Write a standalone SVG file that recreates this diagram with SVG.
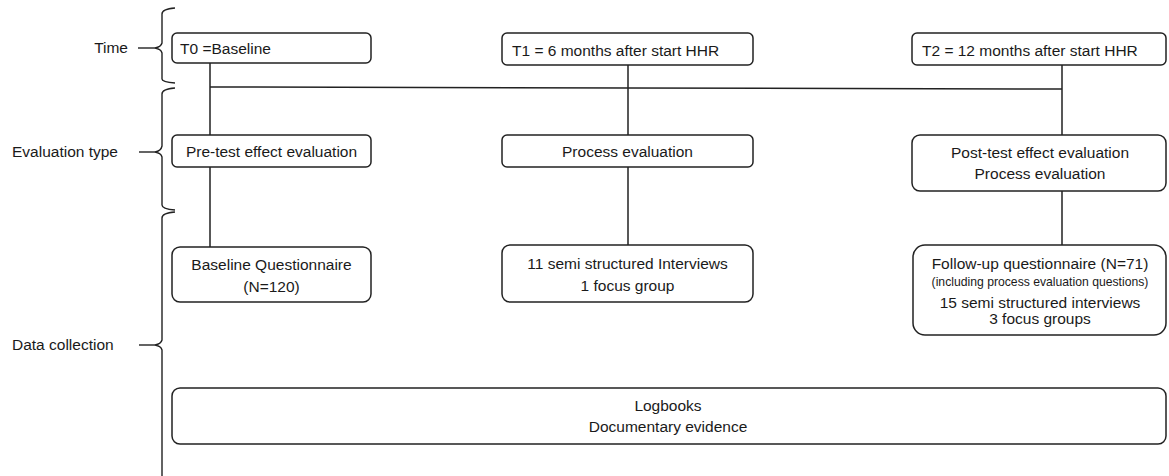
<svg xmlns="http://www.w3.org/2000/svg" width="1169" height="476" viewBox="0 0 1169 476">
<style>
.box{fill:#fff;stroke:#222;stroke-width:1.5}
.ln{fill:none;stroke:#222;stroke-width:1.5}
.br{fill:none;stroke:#222;stroke-width:1.4}
text{font-family:"Liberation Sans",Arial,sans-serif;font-size:15.5px;fill:#1a1a1a}
.c{text-anchor:middle}
.sm{font-size:12.2px}
</style>
<rect width="1169" height="476" fill="#fff"/>
<g id="braces">
<path class="br" d="M175,8 Q162,9 162,14 L162,43 Q161,47 155,48 Q161,49 162,53 L162,79 Q162,82 175,83"/>
<path class="br" d="M138,48 L155,48"/>
<path class="br" d="M175,88 Q162,89 162,94 L162,146 Q161,151 155,152 Q161,153 162,157 L162,205 Q162,209 175,210"/>
<path class="br" d="M139,152 L155,152"/>
<path class="br" d="M175,212 Q162,213 162,218 L162,340 Q161,344 155,345 Q161,346 162,350 L162,480"/>
<path class="br" d="M139,345 L155,345"/>
</g>
<g id="labels">
<text x="128" y="53" text-anchor="end">Time</text>
<text x="12" y="157">Evaluation type</text>
<text x="12" y="350">Data collection</text>
</g>
<g id="connectors">
<path class="ln" d="M210,63 L210,135 M210,167 L210,247"/>
<path class="ln" d="M628,65 L628,135 M628,167 L628,245"/>
<path class="ln" d="M1062,65 L1062,135 M1062,191 L1062,245"/>
<path class="ln" d="M210,87 L628,88 L1062,89"/>
</g>
<g id="t0">
<rect class="box" x="172" y="33" width="199" height="30" rx="5"/>
<text x="180" y="54">T0 =Baseline</text>
</g>
<g id="t1">
<rect class="box" x="502" y="33" width="251" height="32" rx="5"/>
<text x="512" y="56">T1 = 6 months after start HHR</text>
</g>
<g id="t2">
<rect class="box" x="912" y="33" width="254" height="32" rx="5"/>
<text x="922" y="56">T2 = 12 months after start HHR</text>
</g>
<g id="pretest">
<rect class="box" x="172" y="135" width="199" height="32" rx="5"/>
<text class="c" x="271.5" y="157">Pre-test effect evaluation</text>
</g>
<g id="process">
<rect class="box" x="502" y="135" width="251" height="32" rx="5"/>
<text class="c" x="627.5" y="157">Process evaluation</text>
</g>
<g id="posttest">
<rect class="box" x="912" y="135" width="254" height="56" rx="8"/>
<text class="c" x="1040" y="158">Post-test effect evaluation</text>
<text class="c" x="1040" y="179">Process evaluation</text>
</g>
<g id="baselineq">
<rect class="box" x="172" y="247" width="199" height="55" rx="8"/>
<text class="c" x="271.5" y="270">Baseline Questionnaire</text>
<text class="c" x="271.5" y="292">(N=120)</text>
</g>
<g id="interviews">
<rect class="box" x="502" y="245" width="251" height="57" rx="8"/>
<text class="c" x="627.5" y="269">11 semi structured Interviews</text>
<text class="c" x="627.5" y="291">1 focus group</text>
</g>
<g id="followup">
<rect class="box" x="913" y="245" width="253" height="90" rx="12"/>
<text class="c" x="1040" y="269">Follow-up questionnaire (N=71)</text>
<text class="c sm" x="1040" y="286">(including process evaluation questions)</text>
<text class="c" x="1040" y="308">15 semi structured interviews</text>
<text class="c" x="1040" y="324">3 focus groups</text>
</g>
<g id="logbooks">
<rect class="box" x="172" y="388" width="994" height="56" rx="8"/>
<text class="c" x="668" y="411">Logbooks</text>
<text class="c" x="668" y="432">Documentary evidence</text>
</g>
</svg>
